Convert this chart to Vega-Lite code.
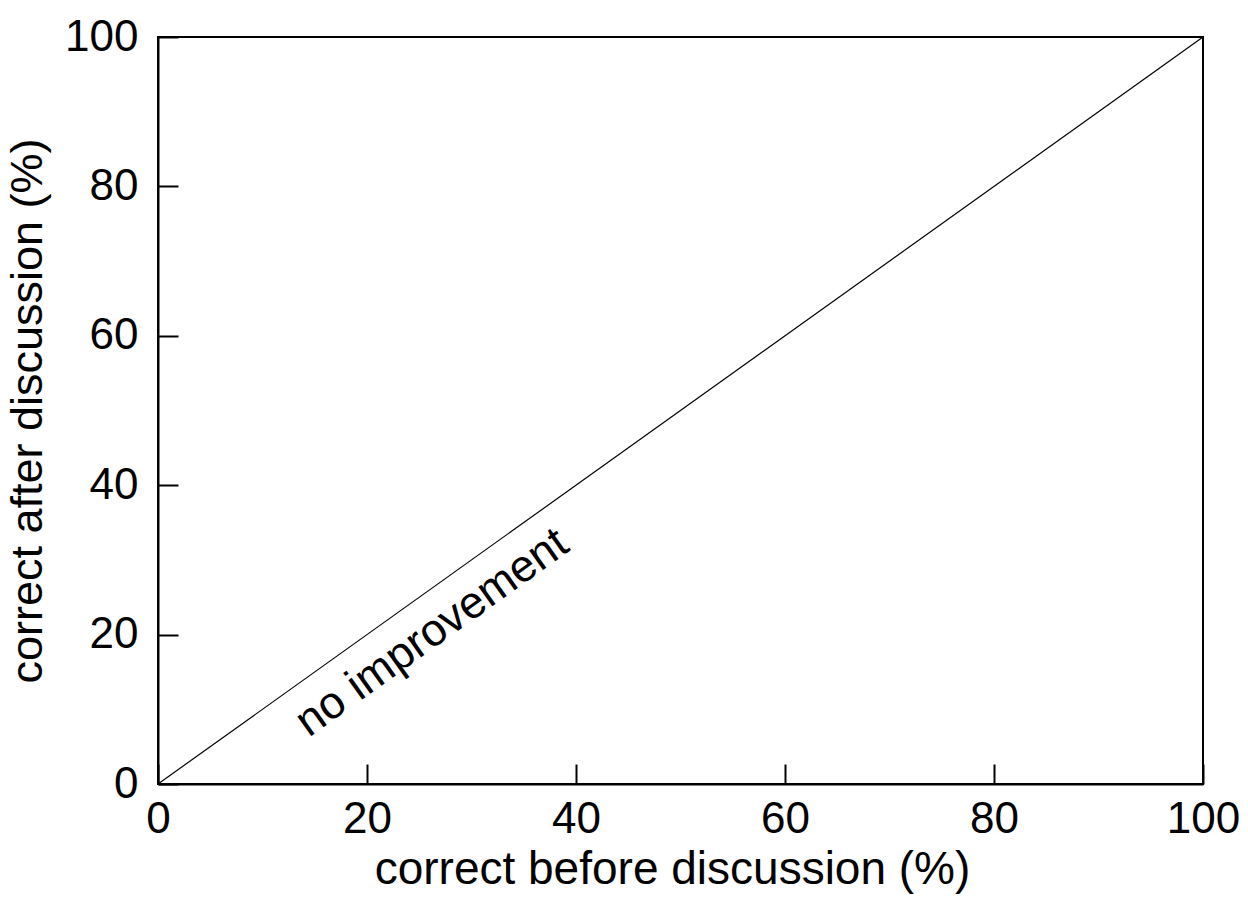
{
  "$schema": "https://vega.github.io/schema/vega-lite/v6.json",
  "width": 1045,
  "height": 747,
  "autosize": "none",
  "padding": {"left": 158, "top": 37, "right": 45, "bottom": 113},
  "background": "white",
  "config": {
    "font": "Liberation Sans",
    "view": {"stroke": "black", "strokeWidth": 2},
    "axis": {
      "grid": false,
      "domainColor": "black",
      "domainWidth": 2,
      "tickColor": "black",
      "tickWidth": 2,
      "tickSize": -20,
      "labelFont": "Liberation Sans",
      "labelFontSize": 44,
      "labelColor": "black",
      "titleFont": "Liberation Sans",
      "titleFontWeight": "normal",
      "titleColor": "black"
    }
  },
  "data": {
    "values": [
      {"before": 0, "after": 0},
      {"before": 100, "after": 100}
    ]
  },
  "layer": [
    {
      "mark": {"type": "line", "color": "black", "strokeWidth": 1.2},
      "encoding": {
        "x": {
          "field": "before", "type": "quantitative",
          "scale": {"domain": [0, 100], "nice": false},
          "axis": {"title": "correct before discussion (%)", "titleFontSize": 46, "titleX": 514, "titleAlign": "center", "values": [0, 20, 40, 60, 80, 100], "labelPadding": 33, "titlePadding": 6, "labelFlush": false}
        },
        "y": {
          "field": "after", "type": "quantitative",
          "scale": {"domain": [0, 100], "nice": false},
          "axis": {"title": "correct after discussion (%)", "titleFontSize": 45, "values": [0, 20, 40, 60, 80, 100], "labelPadding": 40, "titlePadding": 14, "labelFlush": false}
        }
      }
    },
    {
      "data": {"values": [{"x": 26.2, "y": 20.3, "label": "no improvement"}]},
      "mark": {"type": "text", "font": "Liberation Sans", "fontSize": 45, "angle": 324.4, "align": "center", "baseline": "middle", "color": "black"},
      "encoding": {
        "x": {"field": "x", "type": "quantitative"},
        "y": {"field": "y", "type": "quantitative"},
        "text": {"field": "label"}
      }
    }
  ]
}
